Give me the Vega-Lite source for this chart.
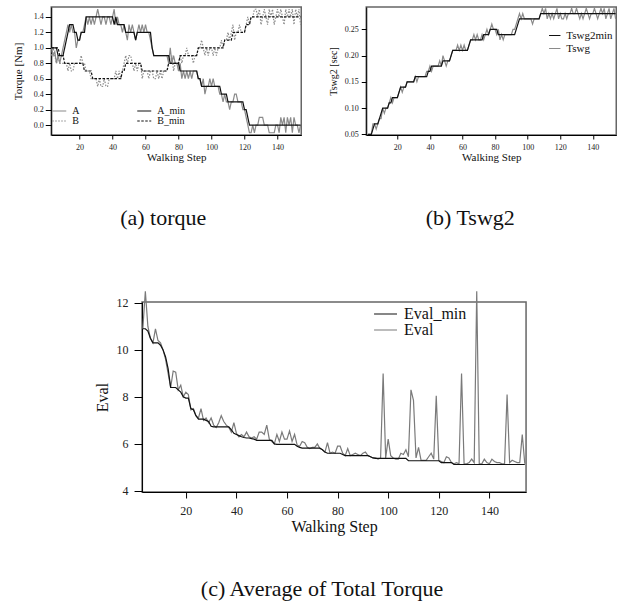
{
"$schema": "https://vega.github.io/schema/vega-lite/v6.json",
"background": "white",
"padding": {"left": 11, "top": 5, "right": 0, "bottom": 0},
"config": {
 "font": "Liberation Serif",
 "view": {"stroke": "#666", "strokeWidth": 1.5},
 "axis": {"domainColor": "#000", "tickColor": "#000", "labelColor": "#222", "titleColor": "#111", "grid": false, "labelFont": "Liberation Serif", "titleFont": "Liberation Serif", "titleFontWeight": "normal"},
 "legend": {"labelFont": "Liberation Serif", "labelColor": "#111", "padding": 0, "symbolType": "stroke"},
 "title": {"font": "Liberation Serif", "fontWeight": "normal", "fontSize": 22, "color": "#111"},
 "line": {"strokeWidth": 1.2, "clip": true}
},
"datasets": {"d": [
{"s":2,"Tswg":0.05,"Tswg2min":0.05},
{"s":3,"A":1.0,"A_min":1.0,"B":0.9,"B_min":1.0,"Tswg":0.05,"Tswg2min":0.05,"Eval":10.9,"Eval_min":10.9},
{"s":4,"A":0.9,"A_min":1.0,"B":1.0,"B_min":1.0,"Tswg":0.05,"Tswg2min":0.05,"Eval":12.5,"Eval_min":10.9},
{"s":5,"A":0.95,"A_min":1.0,"B":0.9,"B_min":1.0,"Tswg":0.07,"Tswg2min":0.06,"Eval":11.0,"Eval_min":10.8},
{"s":6,"A":0.8,"A_min":1.0,"B":0.8,"B_min":1.0,"Tswg":0.07,"Tswg2min":0.07,"Eval":10.5,"Eval_min":10.5},
{"s":7,"A":0.9,"A_min":0.9,"B":0.9,"B_min":1.0,"Tswg":0.06,"Tswg2min":0.07,"Eval":10.3,"Eval_min":10.3},
{"s":8,"A":0.8,"A_min":0.9,"B":0.8,"B_min":0.9,"Tswg":0.07,"Tswg2min":0.07,"Eval":10.9,"Eval_min":10.3},
{"s":9,"A":0.9,"A_min":0.9,"B":0.8,"B_min":0.9,"Tswg":0.08,"Tswg2min":0.08,"Eval":10.4,"Eval_min":10.3},
{"s":10,"A":1.0,"A_min":0.9,"B":0.8,"B_min":0.9,"Tswg":0.08,"Tswg2min":0.09,"Eval":10.3,"Eval_min":10.2},
{"s":11,"A":1.1,"A_min":1.0,"B":0.8,"B_min":0.8,"Tswg":0.10,"Tswg2min":0.10,"Eval":10.0,"Eval_min":10.0},
{"s":12,"A":1.2,"A_min":1.1,"B":0.8,"B_min":0.8,"Tswg":0.09,"Tswg2min":0.10,"Eval":9.6,"Eval_min":9.7},
{"s":13,"A":1.3,"A_min":1.2,"B":0.7,"B_min":0.8,"Tswg":0.10,"Tswg2min":0.10,"Eval":9.0,"Eval_min":9.2},
{"s":14,"A":1.2,"A_min":1.3,"B":0.8,"B_min":0.8,"Tswg":0.10,"Tswg2min":0.10,"Eval":8.4,"Eval_min":8.4},
{"s":15,"A":1.3,"A_min":1.3,"B":0.7,"B_min":0.8,"Tswg":0.11,"Tswg2min":0.11,"Eval":9.1,"Eval_min":8.4},
{"s":16,"A":1.2,"A_min":1.3,"B":0.7,"B_min":0.8,"Tswg":0.12,"Tswg2min":0.11,"Eval":9.05,"Eval_min":8.4},
{"s":17,"A":1.2,"A_min":1.2,"B":0.8,"B_min":0.8,"Tswg":0.11,"Tswg2min":0.12,"Eval":8.3,"Eval_min":8.3},
{"s":18,"A":1.0,"A_min":1.2,"B":0.8,"B_min":0.8,"Tswg":0.12,"Tswg2min":0.12,"Eval":8.5,"Eval_min":8.2},
{"s":19,"A":1.1,"A_min":1.1,"B":0.8,"B_min":0.8,"Tswg":0.12,"Tswg2min":0.12,"Eval":8.0,"Eval_min":8.0},
{"s":20,"A":1.1,"A_min":1.1,"B":0.8,"B_min":0.8,"Tswg":0.12,"Tswg2min":0.12,"Eval":8.2,"Eval_min":7.95},
{"s":21,"A":1.2,"A_min":1.2,"B":0.9,"B_min":0.8,"Tswg":0.13,"Tswg2min":0.13,"Eval":8.1,"Eval_min":7.95},
{"s":22,"A":1.2,"A_min":1.2,"B":0.8,"B_min":0.8,"Tswg":0.14,"Tswg2min":0.14,"Eval":7.45,"Eval_min":7.5},
{"s":23,"A":1.3,"A_min":1.2,"B":0.8,"B_min":0.7,"Tswg":0.13,"Tswg2min":0.14,"Eval":7.5,"Eval_min":7.45},
{"s":24,"A":1.4,"A_min":1.4,"B":0.7,"B_min":0.7,"Tswg":0.14,"Tswg2min":0.14,"Eval":7.2,"Eval_min":7.2},
{"s":25,"A":1.3,"A_min":1.4,"B":0.7,"B_min":0.7,"Tswg":0.14,"Tswg2min":0.14,"Eval":7.1,"Eval_min":7.05},
{"s":26,"A":1.4,"A_min":1.4,"B":0.7,"B_min":0.7,"Tswg":0.15,"Tswg2min":0.15,"Eval":7.5,"Eval_min":7.05},
{"s":27,"A":1.3,"A_min":1.4,"B":0.6,"B_min":0.7,"Tswg":0.15,"Tswg2min":0.15,"Eval":7.0,"Eval_min":7.05},
{"s":28,"A":1.4,"A_min":1.4,"B":0.6,"B_min":0.6,"Tswg":0.15,"Tswg2min":0.15,"Eval":7.1,"Eval_min":7.0},
{"s":29,"A":1.3,"A_min":1.4,"B":0.6,"B_min":0.6,"Tswg":0.15,"Tswg2min":0.15,"Eval":6.9,"Eval_min":6.95},
{"s":30,"A":1.4,"A_min":1.4,"B":0.6,"B_min":0.6,"Tswg":0.15,"Tswg2min":0.15,"Eval":7.1,"Eval_min":6.75},
{"s":31,"A":1.5,"A_min":1.4,"B":0.5,"B_min":0.6,"Tswg":0.16,"Tswg2min":0.16,"Eval":6.8,"Eval_min":6.72},
{"s":32,"A":1.4,"A_min":1.4,"B":0.6,"B_min":0.6,"Tswg":0.15,"Tswg2min":0.16,"Eval":6.7,"Eval_min":6.72},
{"s":33,"A":1.3,"A_min":1.4,"B":0.5,"B_min":0.6,"Tswg":0.16,"Tswg2min":0.16,"Eval":6.9,"Eval_min":6.72},
{"s":34,"A":1.4,"A_min":1.4,"B":0.5,"B_min":0.6,"Tswg":0.16,"Tswg2min":0.16,"Eval":7.2,"Eval_min":6.72},
{"s":35,"A":1.4,"A_min":1.4,"B":0.6,"B_min":0.6,"Tswg":0.16,"Tswg2min":0.16,"Eval":6.95,"Eval_min":6.72},
{"s":36,"A":1.3,"A_min":1.4,"B":0.5,"B_min":0.6,"Tswg":0.16,"Tswg2min":0.16,"Eval":6.8,"Eval_min":6.72},
{"s":37,"A":1.4,"A_min":1.4,"B":0.5,"B_min":0.6,"Tswg":0.16,"Tswg2min":0.16,"Eval":6.7,"Eval_min":6.72},
{"s":38,"A":1.4,"A_min":1.4,"B":0.6,"B_min":0.6,"Tswg":0.17,"Tswg2min":0.16,"Eval":6.5,"Eval_min":6.6},
{"s":39,"A":1.3,"A_min":1.4,"B":0.6,"B_min":0.6,"Tswg":0.17,"Tswg2min":0.17,"Eval":6.9,"Eval_min":6.45},
{"s":40,"A":1.4,"A_min":1.4,"B":0.6,"B_min":0.6,"Tswg":0.18,"Tswg2min":0.17,"Eval":6.45,"Eval_min":6.4},
{"s":41,"A":1.5,"A_min":1.3,"B":0.6,"B_min":0.6,"Tswg":0.17,"Tswg2min":0.18,"Eval":6.3,"Eval_min":6.35},
{"s":42,"A":1.3,"A_min":1.4,"B":0.7,"B_min":0.6,"Tswg":0.18,"Tswg2min":0.18,"Eval":6.4,"Eval_min":6.3},
{"s":43,"A":1.4,"A_min":1.3,"B":0.6,"B_min":0.6,"Tswg":0.18,"Tswg2min":0.18,"Eval":6.3,"Eval_min":6.27},
{"s":44,"A":1.3,"A_min":1.3,"B":0.7,"B_min":0.6,"Tswg":0.18,"Tswg2min":0.18,"Eval":6.5,"Eval_min":6.25},
{"s":45,"A":1.3,"A_min":1.3,"B":0.6,"B_min":0.6,"Tswg":0.18,"Tswg2min":0.18,"Eval":6.3,"Eval_min":6.25},
{"s":46,"A":1.2,"A_min":1.3,"B":0.7,"B_min":0.7,"Tswg":0.19,"Tswg2min":0.18,"Eval":6.25,"Eval_min":6.22},
{"s":47,"A":1.3,"A_min":1.3,"B":0.8,"B_min":0.7,"Tswg":0.18,"Tswg2min":0.18,"Eval":6.3,"Eval_min":6.2},
{"s":48,"A":1.2,"A_min":1.2,"B":0.9,"B_min":0.8,"Tswg":0.20,"Tswg2min":0.19,"Eval":6.2,"Eval_min":6.15},
{"s":49,"A":1.1,"A_min":1.2,"B":0.8,"B_min":0.8,"Tswg":0.19,"Tswg2min":0.19,"Eval":6.5,"Eval_min":6.15},
{"s":50,"A":1.3,"A_min":1.2,"B":0.9,"B_min":0.8,"Tswg":0.18,"Tswg2min":0.19,"Eval":6.5,"Eval_min":6.15},
{"s":51,"A":1.2,"A_min":1.2,"B":0.9,"B_min":0.8,"Tswg":0.19,"Tswg2min":0.19,"Eval":6.4,"Eval_min":6.15},
{"s":52,"A":1.3,"A_min":1.2,"B":0.8,"B_min":0.8,"Tswg":0.19,"Tswg2min":0.19,"Eval":6.8,"Eval_min":6.15},
{"s":53,"A":1.2,"A_min":1.2,"B":0.7,"B_min":0.8,"Tswg":0.20,"Tswg2min":0.20,"Eval":6.2,"Eval_min":6.15},
{"s":54,"A":1.1,"A_min":1.1,"B":0.8,"B_min":0.8,"Tswg":0.21,"Tswg2min":0.21,"Eval":6.1,"Eval_min":6.15},
{"s":55,"A":1.2,"A_min":1.2,"B":0.7,"B_min":0.8,"Tswg":0.21,"Tswg2min":0.21,"Eval":6.0,"Eval_min":6.0},
{"s":56,"A":1.3,"A_min":1.2,"B":0.8,"B_min":0.8,"Tswg":0.21,"Tswg2min":0.21,"Eval":6.4,"Eval_min":5.98},
{"s":57,"A":1.2,"A_min":1.2,"B":0.8,"B_min":0.8,"Tswg":0.22,"Tswg2min":0.21,"Eval":6.1,"Eval_min":5.98},
{"s":58,"A":1.3,"A_min":1.2,"B":0.6,"B_min":0.7,"Tswg":0.21,"Tswg2min":0.21,"Eval":6.5,"Eval_min":5.98},
{"s":59,"A":1.2,"A_min":1.2,"B":0.7,"B_min":0.7,"Tswg":0.22,"Tswg2min":0.21,"Eval":6.2,"Eval_min":5.98},
{"s":60,"A":1.3,"A_min":1.2,"B":0.7,"B_min":0.7,"Tswg":0.21,"Tswg2min":0.21,"Eval":6.2,"Eval_min":5.98},
{"s":61,"A":1.2,"A_min":1.2,"B":0.7,"B_min":0.7,"Tswg":0.22,"Tswg2min":0.21,"Eval":6.55,"Eval_min":5.98},
{"s":62,"A":1.2,"A_min":1.2,"B":0.6,"B_min":0.7,"Tswg":0.21,"Tswg2min":0.21,"Eval":6.1,"Eval_min":5.98},
{"s":63,"A":1.1,"A_min":1.2,"B":0.7,"B_min":0.7,"Tswg":0.21,"Tswg2min":0.21,"Eval":6.4,"Eval_min":5.98},
{"s":64,"A":1.0,"A_min":1.0,"B":0.7,"B_min":0.7,"Tswg":0.22,"Tswg2min":0.22,"Eval":5.95,"Eval_min":5.9},
{"s":65,"A":0.9,"A_min":0.9,"B":0.6,"B_min":0.7,"Tswg":0.23,"Tswg2min":0.23,"Eval":5.9,"Eval_min":5.85},
{"s":66,"A":0.9,"A_min":0.9,"B":0.6,"B_min":0.7,"Tswg":0.23,"Tswg2min":0.23,"Eval":6.1,"Eval_min":5.82},
{"s":67,"A":0.9,"A_min":0.9,"B":0.7,"B_min":0.7,"Tswg":0.24,"Tswg2min":0.23,"Eval":6.05,"Eval_min":5.82},
{"s":68,"A":0.9,"A_min":0.9,"B":0.6,"B_min":0.7,"Tswg":0.23,"Tswg2min":0.23,"Eval":5.85,"Eval_min":5.82},
{"s":69,"A":0.9,"A_min":0.9,"B":0.7,"B_min":0.7,"Tswg":0.24,"Tswg2min":0.23,"Eval":5.8,"Eval_min":5.82},
{"s":70,"A":0.9,"A_min":0.9,"B":0.6,"B_min":0.7,"Tswg":0.23,"Tswg2min":0.23,"Eval":5.85,"Eval_min":5.82},
{"s":71,"A":0.9,"A_min":0.9,"B":0.7,"B_min":0.7,"Tswg":0.23,"Tswg2min":0.23,"Eval":5.85,"Eval_min":5.82},
{"s":72,"A":0.9,"A_min":0.9,"B":0.7,"B_min":0.7,"Tswg":0.24,"Tswg2min":0.23,"Eval":6.0,"Eval_min":5.82},
{"s":73,"A":0.9,"A_min":0.9,"B":0.7,"B_min":0.7,"Tswg":0.23,"Tswg2min":0.24,"Eval":5.8,"Eval_min":5.82},
{"s":74,"A":0.8,"A_min":0.9,"B":0.8,"B_min":0.8,"Tswg":0.24,"Tswg2min":0.24,"Eval":5.75,"Eval_min":5.75},
{"s":75,"A":1.0,"A_min":0.8,"B":0.8,"B_min":0.8,"Tswg":0.25,"Tswg2min":0.24,"Eval":5.65,"Eval_min":5.65},
{"s":76,"A":0.8,"A_min":0.8,"B":0.9,"B_min":0.8,"Tswg":0.24,"Tswg2min":0.24,"Eval":6.05,"Eval_min":5.6},
{"s":77,"A":0.9,"A_min":0.8,"B":0.7,"B_min":0.8,"Tswg":0.25,"Tswg2min":0.25,"Eval":5.6,"Eval_min":5.6},
{"s":78,"A":0.8,"A_min":0.8,"B":0.8,"B_min":0.8,"Tswg":0.26,"Tswg2min":0.25,"Eval":5.65,"Eval_min":5.6},
{"s":79,"A":0.8,"A_min":0.8,"B":0.8,"B_min":0.8,"Tswg":0.25,"Tswg2min":0.25,"Eval":5.6,"Eval_min":5.6},
{"s":80,"A":0.7,"A_min":0.8,"B":0.8,"B_min":0.8,"Tswg":0.25,"Tswg2min":0.25,"Eval":5.9,"Eval_min":5.6},
{"s":81,"A":0.8,"A_min":0.7,"B":0.9,"B_min":0.9,"Tswg":0.24,"Tswg2min":0.25,"Eval":5.9,"Eval_min":5.6},
{"s":82,"A":0.6,"A_min":0.7,"B":0.8,"B_min":0.9,"Tswg":0.25,"Tswg2min":0.24,"Eval":5.6,"Eval_min":5.55},
{"s":83,"A":0.7,"A_min":0.7,"B":0.9,"B_min":0.9,"Tswg":0.23,"Tswg2min":0.24,"Eval":5.5,"Eval_min":5.5},
{"s":84,"A":0.6,"A_min":0.7,"B":0.9,"B_min":0.9,"Tswg":0.24,"Tswg2min":0.24,"Eval":5.8,"Eval_min":5.5},
{"s":85,"A":0.7,"A_min":0.7,"B":1.0,"B_min":0.9,"Tswg":0.23,"Tswg2min":0.24,"Eval":5.5,"Eval_min":5.5},
{"s":86,"A":0.6,"A_min":0.7,"B":0.9,"B_min":0.9,"Tswg":0.24,"Tswg2min":0.24,"Eval":5.55,"Eval_min":5.5},
{"s":87,"A":0.7,"A_min":0.7,"B":0.9,"B_min":0.9,"Tswg":0.24,"Tswg2min":0.24,"Eval":5.6,"Eval_min":5.5},
{"s":88,"A":0.6,"A_min":0.7,"B":0.9,"B_min":0.9,"Tswg":0.24,"Tswg2min":0.24,"Eval":5.55,"Eval_min":5.5},
{"s":89,"A":0.7,"A_min":0.7,"B":0.8,"B_min":0.9,"Tswg":0.24,"Tswg2min":0.24,"Eval":5.5,"Eval_min":5.5},
{"s":90,"A":0.7,"A_min":0.7,"B":0.9,"B_min":0.9,"Tswg":0.24,"Tswg2min":0.24,"Eval":5.6,"Eval_min":5.5},
{"s":91,"A":0.7,"A_min":0.7,"B":0.9,"B_min":0.9,"Tswg":0.25,"Tswg2min":0.24,"Eval":5.65,"Eval_min":5.5},
{"s":92,"A":0.6,"A_min":0.6,"B":1.0,"B_min":1.0,"Tswg":0.25,"Tswg2min":0.24,"Eval":5.5,"Eval_min":5.5},
{"s":93,"A":0.6,"A_min":0.6,"B":1.0,"B_min":1.0,"Tswg":0.26,"Tswg2min":0.25,"Eval":5.45,"Eval_min":5.45},
{"s":94,"A":0.5,"A_min":0.5,"B":1.1,"B_min":1.0,"Tswg":0.27,"Tswg2min":0.26,"Eval":5.4,"Eval_min":5.4},
{"s":95,"A":0.6,"A_min":0.5,"B":1.0,"B_min":1.0,"Tswg":0.28,"Tswg2min":0.27,"Eval":5.4,"Eval_min":5.38},
{"s":96,"A":0.4,"A_min":0.5,"B":0.9,"B_min":1.0,"Tswg":0.27,"Tswg2min":0.27,"Eval":5.35,"Eval_min":5.38},
{"s":97,"A":0.5,"A_min":0.5,"B":1.0,"B_min":1.0,"Tswg":0.28,"Tswg2min":0.27,"Eval":5.4,"Eval_min":5.38},
{"s":98,"A":0.5,"A_min":0.5,"B":0.9,"B_min":1.0,"Tswg":0.27,"Tswg2min":0.27,"Eval":9.0,"Eval_min":5.38},
{"s":99,"A":0.6,"A_min":0.5,"B":1.0,"B_min":1.0,"Tswg":0.27,"Tswg2min":0.27,"Eval":5.4,"Eval_min":5.38},
{"s":100,"A":0.5,"A_min":0.5,"B":1.0,"B_min":1.0,"Tswg":0.27,"Tswg2min":0.27,"Eval":6.2,"Eval_min":5.38},
{"s":101,"A":0.6,"A_min":0.5,"B":0.9,"B_min":1.0,"Tswg":0.27,"Tswg2min":0.27,"Eval":5.5,"Eval_min":5.38},
{"s":102,"A":0.5,"A_min":0.5,"B":1.0,"B_min":1.0,"Tswg":0.27,"Tswg2min":0.27,"Eval":5.4,"Eval_min":5.38},
{"s":103,"A":0.5,"A_min":0.5,"B":0.9,"B_min":1.0,"Tswg":0.26,"Tswg2min":0.27,"Eval":5.35,"Eval_min":5.38},
{"s":104,"A":0.5,"A_min":0.5,"B":1.0,"B_min":1.0,"Tswg":0.27,"Tswg2min":0.27,"Eval":5.35,"Eval_min":5.38},
{"s":105,"A":0.4,"A_min":0.5,"B":1.0,"B_min":1.0,"Tswg":0.27,"Tswg2min":0.27,"Eval":5.6,"Eval_min":5.38},
{"s":106,"A":0.4,"A_min":0.4,"B":1.1,"B_min":1.0,"Tswg":0.27,"Tswg2min":0.27,"Eval":5.55,"Eval_min":5.38},
{"s":107,"A":0.3,"A_min":0.4,"B":1.0,"B_min":1.0,"Tswg":0.27,"Tswg2min":0.27,"Eval":5.75,"Eval_min":5.38},
{"s":108,"A":0.4,"A_min":0.4,"B":1.1,"B_min":1.1,"Tswg":0.28,"Tswg2min":0.28,"Eval":5.45,"Eval_min":5.28},
{"s":109,"A":0.3,"A_min":0.4,"B":1.1,"B_min":1.1,"Tswg":0.29,"Tswg2min":0.28,"Eval":8.3,"Eval_min":5.28},
{"s":110,"A":0.3,"A_min":0.3,"B":1.2,"B_min":1.1,"Tswg":0.28,"Tswg2min":0.28,"Eval":7.85,"Eval_min":5.28},
{"s":111,"A":0.2,"A_min":0.3,"B":1.1,"B_min":1.1,"Tswg":0.29,"Tswg2min":0.28,"Eval":5.4,"Eval_min":5.28},
{"s":112,"A":0.3,"A_min":0.3,"B":1.2,"B_min":1.1,"Tswg":0.27,"Tswg2min":0.28,"Eval":5.85,"Eval_min":5.28},
{"s":113,"A":0.3,"A_min":0.3,"B":1.3,"B_min":1.2,"Tswg":0.28,"Tswg2min":0.28,"Eval":5.3,"Eval_min":5.28},
{"s":114,"A":0.4,"A_min":0.3,"B":1.1,"B_min":1.2,"Tswg":0.27,"Tswg2min":0.28,"Eval":5.3,"Eval_min":5.28},
{"s":115,"A":0.4,"A_min":0.3,"B":1.2,"B_min":1.2,"Tswg":0.28,"Tswg2min":0.28,"Eval":5.3,"Eval_min":5.28},
{"s":116,"A":0.3,"A_min":0.3,"B":1.2,"B_min":1.2,"Tswg":0.27,"Tswg2min":0.28,"Eval":5.45,"Eval_min":5.28},
{"s":117,"A":0.3,"A_min":0.3,"B":1.3,"B_min":1.2,"Tswg":0.28,"Tswg2min":0.28,"Eval":5.6,"Eval_min":5.28},
{"s":118,"A":0.3,"A_min":0.3,"B":1.2,"B_min":1.2,"Tswg":0.29,"Tswg2min":0.28,"Eval":5.35,"Eval_min":5.28},
{"s":119,"A":0.2,"A_min":0.3,"B":1.2,"B_min":1.2,"Tswg":0.27,"Tswg2min":0.28,"Eval":8.05,"Eval_min":5.28},
{"s":120,"A":0.2,"A_min":0.2,"B":1.2,"B_min":1.2,"Tswg":0.28,"Tswg2min":0.28,"Eval":5.3,"Eval_min":5.28},
{"s":121,"A":0.1,"A_min":0.2,"B":1.3,"B_min":1.3,"Tswg":0.27,"Tswg2min":0.28,"Eval":5.25,"Eval_min":5.2},
{"s":122,"A":0.0,"A_min":0.1,"B":1.4,"B_min":1.3,"Tswg":0.27,"Tswg2min":0.28,"Eval":5.2,"Eval_min":5.2},
{"s":123,"A":-0.1,"A_min":0.0,"B":1.3,"B_min":1.3,"Tswg":0.28,"Tswg2min":0.28,"Eval":5.45,"Eval_min":5.2},
{"s":124,"A":-0.1,"A_min":0.0,"B":1.4,"B_min":1.4,"Tswg":0.27,"Tswg2min":0.28,"Eval":5.4,"Eval_min":5.2},
{"s":125,"A":0.0,"A_min":0.0,"B":1.4,"B_min":1.4,"Tswg":0.28,"Tswg2min":0.28,"Eval":5.2,"Eval_min":5.2},
{"s":126,"A":-0.1,"A_min":0.0,"B":1.5,"B_min":1.4,"Tswg":0.28,"Tswg2min":0.28,"Eval":5.15,"Eval_min":5.12},
{"s":127,"A":0.0,"A_min":0.0,"B":1.5,"B_min":1.4,"Tswg":0.29,"Tswg2min":0.28,"Eval":5.2,"Eval_min":5.12},
{"s":128,"A":0.0,"A_min":0.0,"B":1.4,"B_min":1.4,"Tswg":0.28,"Tswg2min":0.28,"Eval":5.15,"Eval_min":5.12},
{"s":129,"A":0.1,"A_min":0.0,"B":1.5,"B_min":1.4,"Tswg":0.28,"Tswg2min":0.28,"Eval":9.0,"Eval_min":5.12},
{"s":130,"A":0.1,"A_min":0.0,"B":1.3,"B_min":1.4,"Tswg":0.29,"Tswg2min":0.28,"Eval":5.15,"Eval_min":5.12},
{"s":131,"A":0.1,"A_min":0.0,"B":1.4,"B_min":1.4,"Tswg":0.28,"Tswg2min":0.28,"Eval":5.15,"Eval_min":5.12},
{"s":132,"A":0.0,"A_min":0.0,"B":1.5,"B_min":1.4,"Tswg":0.27,"Tswg2min":0.28,"Eval":5.2,"Eval_min":5.12},
{"s":133,"A":0.0,"A_min":0.0,"B":1.4,"B_min":1.4,"Tswg":0.28,"Tswg2min":0.28,"Eval":5.35,"Eval_min":5.12},
{"s":134,"A":0.0,"A_min":0.0,"B":1.3,"B_min":1.4,"Tswg":0.27,"Tswg2min":0.28,"Eval":5.2,"Eval_min":5.12},
{"s":135,"A":-0.1,"A_min":0.0,"B":1.5,"B_min":1.4,"Tswg":0.28,"Tswg2min":0.28,"Eval":12.5,"Eval_min":5.12},
{"s":136,"A":-0.1,"A_min":0.0,"B":1.4,"B_min":1.4,"Tswg":0.29,"Tswg2min":0.28,"Eval":5.15,"Eval_min":5.12},
{"s":137,"A":-0.1,"A_min":0.0,"B":1.5,"B_min":1.4,"Tswg":0.28,"Tswg2min":0.28,"Eval":5.15,"Eval_min":5.12},
{"s":138,"A":-0.1,"A_min":0.0,"B":1.3,"B_min":1.4,"Tswg":0.27,"Tswg2min":0.28,"Eval":5.35,"Eval_min":5.12},
{"s":139,"A":0.0,"A_min":0.0,"B":1.4,"B_min":1.4,"Tswg":0.28,"Tswg2min":0.28,"Eval":5.2,"Eval_min":5.12},
{"s":140,"A":0.0,"A_min":0.0,"B":1.5,"B_min":1.4,"Tswg":0.28,"Tswg2min":0.28,"Eval":5.15,"Eval_min":5.12},
{"s":141,"A":-0.1,"A_min":0.0,"B":1.4,"B_min":1.4,"Tswg":0.29,"Tswg2min":0.28,"Eval":5.35,"Eval_min":5.12},
{"s":142,"A":0.1,"A_min":0.0,"B":1.5,"B_min":1.4,"Tswg":0.28,"Tswg2min":0.28,"Eval":5.25,"Eval_min":5.12},
{"s":143,"A":0.0,"A_min":0.0,"B":1.4,"B_min":1.4,"Tswg":0.27,"Tswg2min":0.28,"Eval":5.2,"Eval_min":5.12},
{"s":144,"A":0.1,"A_min":0.0,"B":1.3,"B_min":1.4,"Tswg":0.28,"Tswg2min":0.28,"Eval":5.2,"Eval_min":5.12},
{"s":145,"A":-0.1,"A_min":0.0,"B":1.5,"B_min":1.4,"Tswg":0.29,"Tswg2min":0.28,"Eval":5.15,"Eval_min":5.12},
{"s":146,"A":0.1,"A_min":0.0,"B":1.4,"B_min":1.4,"Tswg":0.28,"Tswg2min":0.28,"Eval":5.15,"Eval_min":5.12},
{"s":147,"A":0.0,"A_min":0.0,"B":1.5,"B_min":1.4,"Tswg":0.29,"Tswg2min":0.28,"Eval":8.1,"Eval_min":5.12},
{"s":148,"A":0.1,"A_min":0.0,"B":1.4,"B_min":1.4,"Tswg":0.27,"Tswg2min":0.28,"Eval":5.2,"Eval_min":5.12},
{"s":149,"A":-0.1,"A_min":0.0,"B":1.5,"B_min":1.4,"Tswg":0.28,"Tswg2min":0.28,"Eval":5.3,"Eval_min":5.12},
{"s":150,"A":0.1,"A_min":0.0,"B":1.3,"B_min":1.4,"Tswg":0.29,"Tswg2min":0.28,"Eval":5.25,"Eval_min":5.12},
{"s":151,"A":0.0,"A_min":0.0,"B":1.5,"B_min":1.4,"Tswg":0.27,"Tswg2min":0.28,"Eval":5.2,"Eval_min":5.12},
{"s":152,"A":0.0,"A_min":0.0,"B":1.4,"B_min":1.4,"Tswg":0.28,"Tswg2min":0.28,"Eval":5.2,"Eval_min":5.12},
{"s":153,"A":-0.1,"A_min":0.0,"B":1.5,"B_min":1.4,"Tswg":0.29,"Tswg2min":0.28,"Eval":6.4,"Eval_min":5.12},
{"s":154,"A":0.0,"A_min":0.0,"B":1.3,"B_min":1.4,"Tswg":0.27,"Tswg2min":0.28,"Eval":5.15,"Eval_min":5.12}
]},
"center": true,
"spacing": 58,
"resolve": {"scale": {"color": "independent", "strokeDash": "independent"}, "legend": {"color": "independent", "strokeDash": "independent"}},
"vconcat": [
 {"spacing": 23,
  "resolve": {"scale": {"color": "independent", "strokeDash": "independent"}, "legend": {"color": "independent", "strokeDash": "independent"}},
  "hconcat": [
  {"width": 250, "height": 128,
   "data": {"name": "d"},
   "transform": [{"fold": ["A", "A_min", "B", "B_min"], "as": ["series", "value"]}],
   "title": {"text": "(a) torque", "orient": "bottom", "anchor": "middle", "dx": -13, "offset": 46},
   "mark": {"type": "line"},
   "encoding": {
    "x": {"field": "s", "type": "quantitative", "scale": {"domain": [2.85, 154.4], "nice": false, "zero": false},
          "axis": {"values": [20, 40, 60, 80, 100, 120, 140], "title": "Walking Step", "labelFontSize": 8, "titleFontSize": 11, "tickSize": 4, "labelPadding": 4, "titlePadding": 0}},
    "y": {"field": "value", "type": "quantitative", "scale": {"domain": [-0.129, 1.529], "nice": false, "zero": false},
          "axis": {"values": [0, 0.2, 0.4, 0.6, 0.8, 1.0, 1.2, 1.4], "format": ".1f", "title": "Torque [Nm]", "labelFontSize": 8, "titleFontSize": 11, "tickSize": 6, "labelPadding": 2, "titlePadding": 10}},
    "color": {"field": "series", "type": "nominal", "scale": {"domain": ["A", "B", "A_min", "B_min"], "range": ["#8a8a8a", "#8a8a8a", "#111111", "#111111"]},
          "legend": {"title": null, "orient": "none", "legendX": 0, "legendY": 99, "columns": 2, "columnPadding": 56, "rowPadding": 0, "clipHeight": 10, "symbolSize": 196, "symbolStrokeWidth": 1.2, "labelFontSize": 10, "labelOffset": 5}},
    "strokeDash": {"field": "series", "type": "nominal", "scale": {"domain": ["A", "B", "A_min", "B_min"], "range": [[1, 0], [1.5, 1.5], [1, 0], [2.5, 1.5]]},
          "legend": {"title": null, "orient": "none", "legendX": 0, "legendY": 99, "columns": 2, "columnPadding": 56, "rowPadding": 0, "clipHeight": 10, "symbolSize": 196, "symbolStrokeWidth": 1.2, "labelFontSize": 10, "labelOffset": 5}}
   }
  },
  {"width": 250, "height": 128,
   "data": {"name": "d"},
   "transform": [{"fold": ["Tswg", "Tswg2min"], "as": ["series", "value"]}],
   "title": {"text": "(b) Tswg2", "orient": "bottom", "anchor": "middle", "dx": -21, "offset": 46},
   "mark": {"type": "line"},
   "encoding": {
    "x": {"field": "s", "type": "quantitative", "scale": {"domain": [0.9, 154.4], "nice": false, "zero": false},
          "axis": {"values": [20, 40, 60, 80, 100, 120, 140], "title": "Walking Step", "labelFontSize": 8, "titleFontSize": 11, "tickSize": 4, "labelPadding": 4, "titlePadding": 0}},
    "y": {"field": "value", "type": "quantitative", "scale": {"domain": [0.0487, 0.2925], "nice": false, "zero": false},
          "axis": {"values": [0.05, 0.10, 0.15, 0.20, 0.25], "format": ".2f", "title": "Tswg2 [sec]", "labelFontSize": 8, "titleFontSize": 10, "tickSize": 5, "labelPadding": 3, "titlePadding": 6}},
    "color": {"field": "series", "type": "nominal", "scale": {"domain": ["Tswg2min", "Tswg"], "range": ["#111111", "#8a8a8a"]},
          "legend": {"title": null, "orient": "none", "legendX": 182, "legendY": 22, "rowPadding": 0, "clipHeight": 13, "symbolSize": 130, "symbolStrokeWidth": 1.2, "labelFontSize": 11, "labelOffset": 5}}
   }
  }
 ]},
 {"width": 384, "height": 190,
  "data": {"name": "d"},
  "transform": [{"fold": ["Eval", "Eval_min"], "as": ["series", "value"]}],
  "title": {"text": "(c) Average of Total Torque", "orient": "bottom", "anchor": "middle", "dx": -12, "offset": 45},
  "mark": {"type": "line"},
  "encoding": {
   "x": {"field": "s", "type": "quantitative", "scale": {"domain": [2.7, 154.5], "nice": false, "zero": false},
         "axis": {"values": [20, 40, 60, 80, 100, 120, 140], "title": "Walking Step", "labelFontSize": 12, "titleFontSize": 16, "tickSize": 6, "labelPadding": 7, "titlePadding": 2}},
   "y": {"field": "value", "type": "quantitative", "scale": {"domain": [3.95, 12.04], "nice": false, "zero": false},
         "axis": {"values": [4, 6, 8, 10, 12], "title": "Eval", "labelFontSize": 12, "titleFontSize": 16, "tickSize": 8, "labelPadding": 6, "titlePadding": 6}},
   "color": {"field": "series", "type": "nominal", "scale": {"domain": ["Eval_min", "Eval"], "range": ["#111111", "#7a7a7a"]},
         "legend": {"title": null, "orient": "none", "legendX": 231, "legendY": 4, "rowPadding": 0, "clipHeight": 16, "symbolSize": 529, "symbolStrokeWidth": 1.2, "labelFontSize": 16, "labelOffset": 6}}
  }
 }
]
}
